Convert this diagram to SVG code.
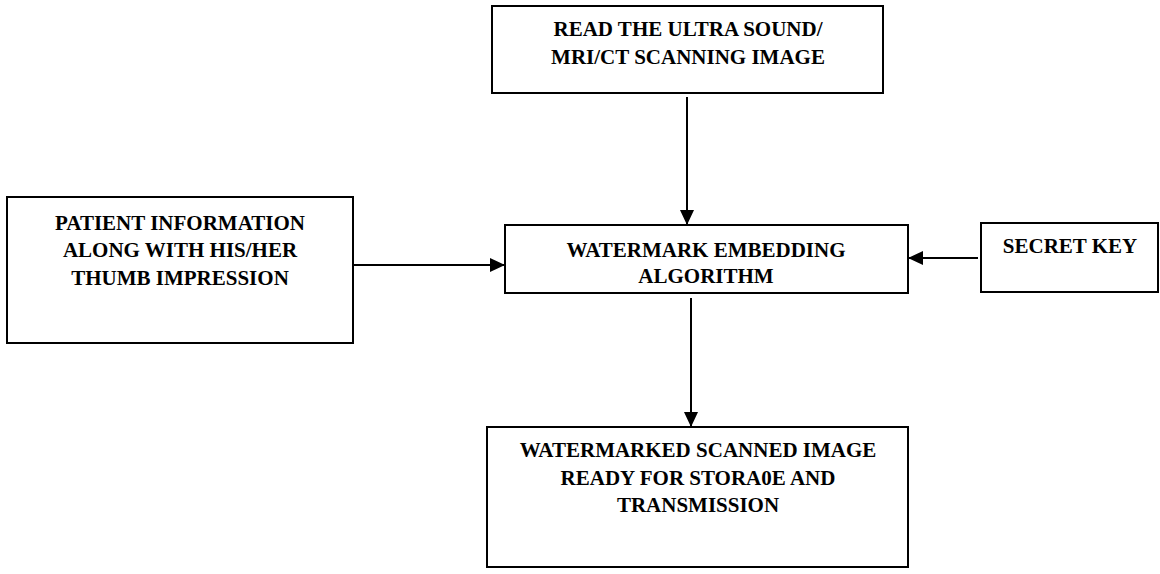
<svg xmlns="http://www.w3.org/2000/svg" width="1160" height="574" viewBox="0 0 1160 574">
<style>
.box{fill:#fff;stroke:#000;stroke-width:2}
.t{font-family:"Liberation Serif","Times New Roman",serif;font-weight:bold;font-size:21px;fill:#000;text-anchor:middle}
.c{stroke:#000;stroke-width:2;fill:none}
</style>
<defs>
<marker id="ah" markerWidth="15" markerHeight="14" refX="15" refY="7" orient="auto" markerUnits="userSpaceOnUse">
<path d="M0,0 L15,7 L0,14 Z" fill="#000"/>
</marker>
</defs>
<rect width="1160" height="574" fill="#fff"/>
<g id="connectors">
<line class="c" x1="687" y1="97" x2="687" y2="225" marker-end="url(#ah)"/>
<line class="c" x1="354" y1="265" x2="505" y2="265" marker-end="url(#ah)"/>
<line class="c" x1="978" y1="258" x2="908" y2="258" marker-end="url(#ah)"/>
<line class="c" x1="691" y1="298" x2="691" y2="427" marker-end="url(#ah)"/>
</g>
<g id="read-image">
<rect class="box" x="492" y="6" width="391" height="87"/>
<text class="t" x="688" y="36">READ THE ULTRA SOUND/</text>
<text class="t" x="688" y="64">MRI/CT SCANNING IMAGE</text>
</g>
<g id="patient-info">
<rect class="box" x="7" y="197" width="346" height="146"/>
<text class="t" x="180" y="230">PATIENT INFORMATION</text>
<text class="t" x="180" y="257">ALONG WITH HIS/HER</text>
<text class="t" x="180" y="285">THUMB IMPRESSION</text>
</g>
<g id="embedding">
<rect class="box" x="505" y="225" width="403" height="68"/>
<text class="t" x="706" y="257">WATERMARK EMBEDDING</text>
<text class="t" x="706" y="283">ALGORITHM</text>
</g>
<g id="secret-key">
<rect class="box" x="981" y="223" width="177" height="69"/>
<text class="t" x="1070" y="253">SECRET KEY</text>
</g>
<g id="watermarked">
<rect class="box" x="487" y="427" width="421" height="140"/>
<text class="t" x="698" y="457">WATERMARKED SCANNED IMAGE</text>
<text class="t" x="698" y="485">READY FOR STORA0E AND</text>
<text class="t" x="698" y="512">TRANSMISSION</text>
</g>
</svg>
